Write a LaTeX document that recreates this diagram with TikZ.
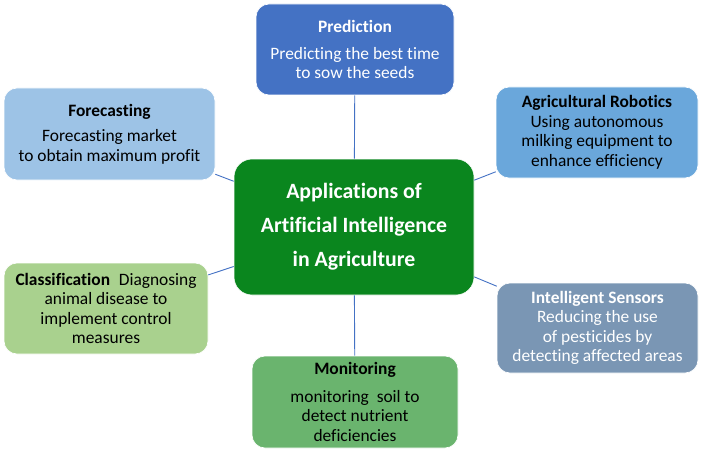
\documentclass[tikz,border=0pt]{standalone}
\usepackage{fontspec}
\setmainfont{Carlito}[Ligatures=NoCommon]

\definecolor{predblue}{HTML}{4472C4}
\definecolor{forelight}{HTML}{9DC3E6}
\definecolor{robblue}{HTML}{6AA7DB}
\definecolor{aigreen}{HTML}{0A861E}
\definecolor{classgreen}{HTML}{A9D18E}
\definecolor{mongreen}{HTML}{6AB46E}
\definecolor{sensgray}{HTML}{7A96B4}
\definecolor{linkblue}{HTML}{4472C4}

\tikzset{
  box/.style={rounded corners=13pt, draw=white, line width=0.6pt, align=center, inner sep=0pt,
    font=\fontsize{17.4}{19.5}\selectfont},
  link/.style={draw=linkblue, line width=0.9pt}
}

\begin{document}
\begin{tikzpicture}[x=1pt, y=-1pt]
\useasboundingbox (0,0) rectangle (702,452);

\node[box, fill=aigreen, text=white, minimum width=240pt, minimum height=136pt, rounded corners=18pt,
  font=\fontsize{21.8}{34}\selectfont\bfseries] (ai) at (354,227)
  {Applications of\\Artificial Intelligence\\in Agriculture};

\node[box, fill=predblue, text=white, minimum width=198pt, minimum height=91pt] (pred) at (355,49.5)
  {\textbf{Prediction}\\[7pt]Predicting the best time\\to sow the seeds};
\node[box, fill=forelight, minimum width=211pt, minimum height=92pt] (fore) at (109.5,134)
  {\textbf{Forecasting}\\[6pt]Forecasting market\\to obtain maximum profit};
\node[box, fill=robblue, minimum width=202pt, minimum height=91pt] (robot) at (597,132.5)
  {\textbf{Agricultural Robotics}\\Using autonomous\\milking equipment to\\enhance efficiency};
\node[box, fill=classgreen, minimum width=204pt, minimum height=91pt] (class) at (106,308.5)
  {\textbf{Classification}\enspace Diagnosing\\animal disease to\\implement control\\measures};
\node[box, fill=mongreen, minimum width=206pt, minimum height=92pt] (mon) at (355,402)
  {\textbf{Monitoring}\\[8pt]monitoring\ \ soil to\\detect nutrient\\deficiencies};
\node[box, fill=sensgray, text=white, minimum width=201pt, minimum height=90pt] (sens) at (597.5,328)
  {\textbf{Intelligent Sensors}\\Reducing the use\\of pesticides by\\detecting affected areas};

\draw[link] (ai) -- (pred);
\draw[link] (ai) -- (fore);
\draw[link] (ai) -- (robot);
\draw[link] (ai) -- (class);
\draw[link] (ai) -- (mon);
\draw[link] (ai) -- (sens);
\end{tikzpicture}
\end{document}
